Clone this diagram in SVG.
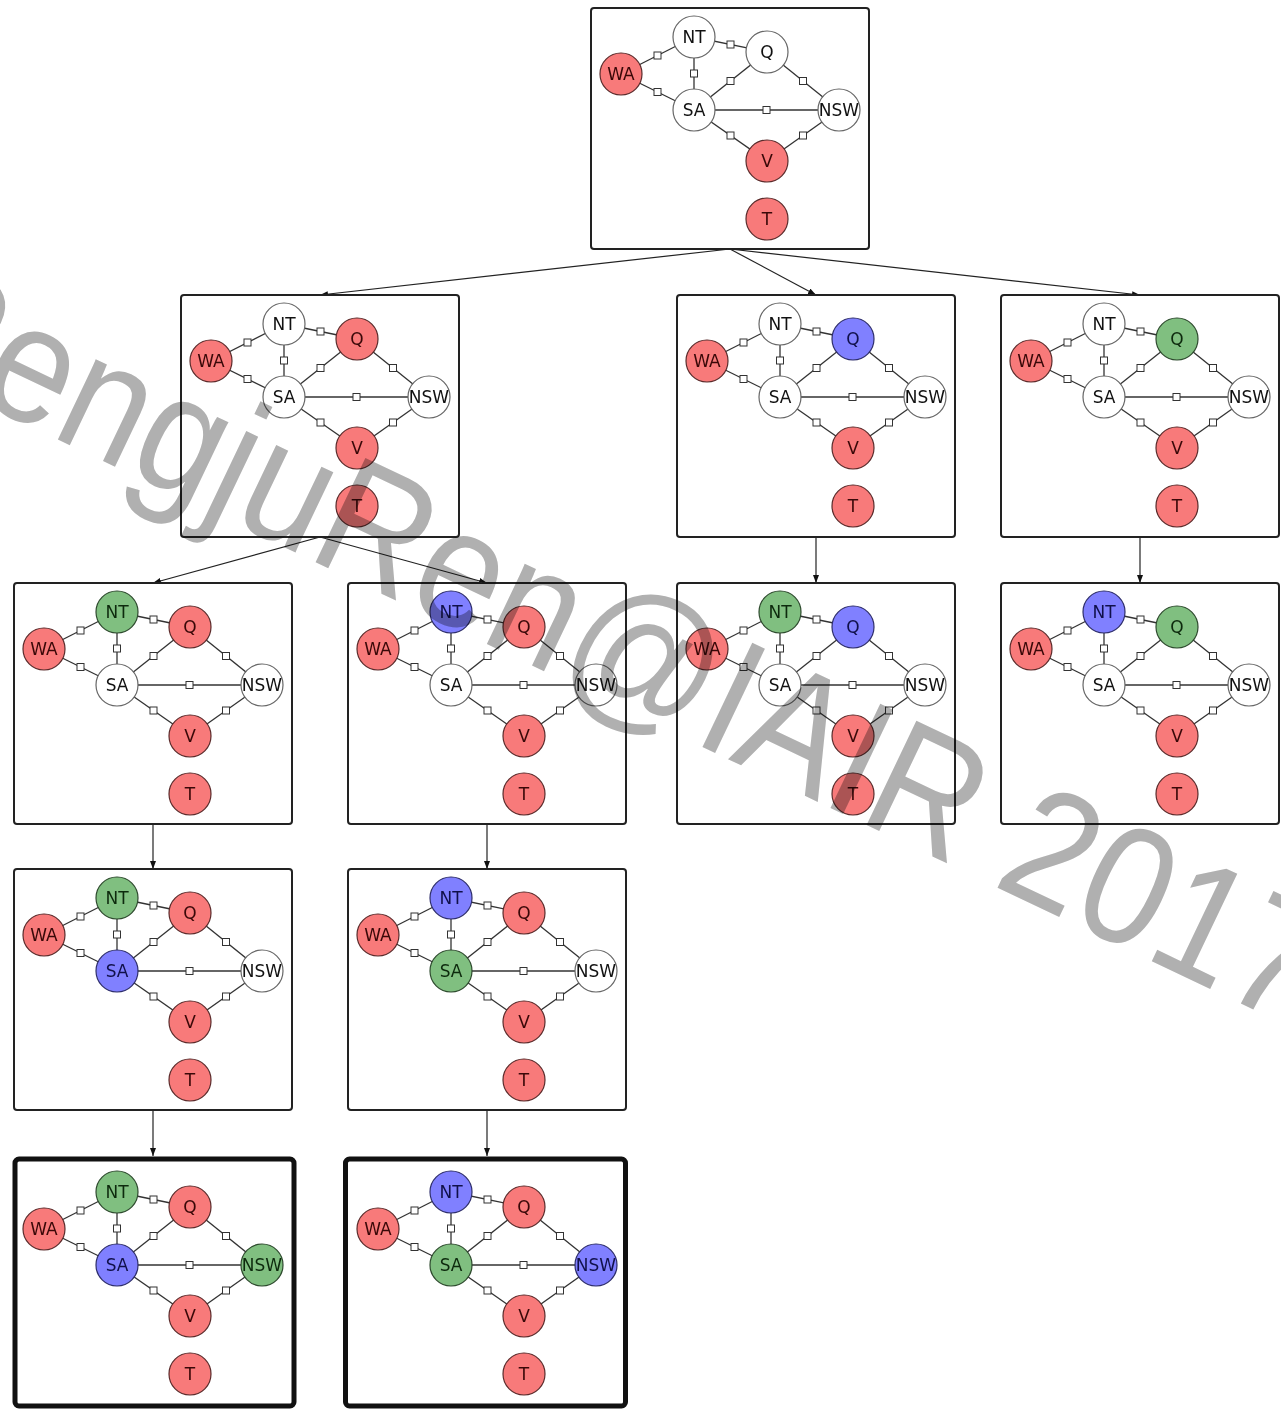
<svg xmlns="http://www.w3.org/2000/svg" xmlns:xlink="http://www.w3.org/1999/xlink" width="1281" height="1415" viewBox="0 0 1281 1415">
<style>
.box{fill:#fff;stroke:#222;stroke-width:2}
.thick{fill:#fff;stroke:#111;stroke-width:5}
.e{stroke:#333;stroke-width:1.3}
.f{fill:#fff;stroke:#333;stroke-width:1}
circle{stroke-width:1.2}
.w circle{fill:#fff;stroke:#666}
.r circle{fill:#f87a7a;stroke:#5a2a2a}
.g circle{fill:#80bf80;stroke:#2d4a2d}
.b circle{fill:#8080ff;stroke:#2d2d6a}
text{font-family:"DejaVu Sans",sans-serif;font-size:17px;text-anchor:middle}
.w text{fill:#111}.r text{fill:#3a0808}.g text{fill:#0d2a0d}.b text{fill:#10104a}
.conn{stroke:#222;stroke-width:1.2;fill:none;marker-end:url(#ah)}
.wm{font-family:"Liberation Sans",Arial,sans-serif;font-size:168px;fill:#b0b0b0;text-anchor:start;mix-blend-mode:multiply}
</style>
<defs>
<marker id="ah" markerWidth="8" markerHeight="6" refX="8" refY="3" orient="auto" markerUnits="userSpaceOnUse"><path d="M0,0 L8,3 L0,6 z" fill="#111"/></marker>
<g id="sk">
<line class="e" x1="30" y1="66" x2="103" y2="29"/>
<line class="e" x1="30" y1="66" x2="103" y2="102"/>
<line class="e" x1="103" y1="29" x2="103" y2="102"/>
<line class="e" x1="103" y1="29" x2="176" y2="44"/>
<line class="e" x1="103" y1="102" x2="176" y2="44"/>
<line class="e" x1="176" y1="44" x2="248" y2="102"/>
<line class="e" x1="103" y1="102" x2="248" y2="102"/>
<line class="e" x1="103" y1="102" x2="176" y2="153"/>
<line class="e" x1="248" y1="102" x2="176" y2="153"/>
<rect class="f" x="63" y="44" width="7" height="7"/>
<rect class="f" x="63" y="80.5" width="7" height="7"/>
<rect class="f" x="99.5" y="62" width="7" height="7"/>
<rect class="f" x="136" y="33" width="7" height="7"/>
<rect class="f" x="136" y="69.5" width="7" height="7"/>
<rect class="f" x="208.5" y="69.5" width="7" height="7"/>
<rect class="f" x="172" y="98.5" width="7" height="7"/>
<rect class="f" x="136" y="124" width="7" height="7"/>
<rect class="f" x="208.5" y="124" width="7" height="7"/>
</g>
</defs>
<rect width="1281" height="1415" fill="#fff"/>

<g id="connectors">
<line class="conn" x1="730" y1="249" x2="320" y2="295"/>
<line class="conn" x1="730" y1="249" x2="816" y2="295"/>
<line class="conn" x1="730" y1="249" x2="1140" y2="295"/>
<line class="conn" x1="320" y1="537" x2="153" y2="583"/>
<line class="conn" x1="320" y1="537" x2="487" y2="583"/>
<line class="conn" x1="816" y1="537" x2="816" y2="583"/>
<line class="conn" x1="1140" y1="537" x2="1140" y2="583"/>
<line class="conn" x1="153" y1="824" x2="153" y2="869"/>
<line class="conn" x1="487" y1="824" x2="487" y2="869"/>
<line class="conn" x1="153" y1="1110" x2="153" y2="1156"/>
<line class="conn" x1="487" y1="1110" x2="487" y2="1156"/>
</g>

<g id="s0" transform="translate(591,8)">
<rect class="box" x="0" y="0" width="278" height="241" rx="3"/>
<use xlink:href="#sk"/>
<g id="s0-NT" class="w"><circle cx="103" cy="29" r="21"/><text x="103" y="29" dy="0.36em">NT</text></g>
<g id="s0-Q" class="w"><circle cx="176" cy="44" r="21"/><text x="176" y="44" dy="0.36em">Q</text></g>
<g id="s0-WA" class="r"><circle cx="30" cy="66" r="21"/><text x="30" y="66" dy="0.36em">WA</text></g>
<g id="s0-SA" class="w"><circle cx="103" cy="102" r="21"/><text x="103" y="102" dy="0.36em">SA</text></g>
<g id="s0-NSW" class="w"><circle cx="248" cy="102" r="21"/><text x="248" y="102" dy="0.36em">NSW</text></g>
<g id="s0-V" class="r"><circle cx="176" cy="153" r="21"/><text x="176" y="153" dy="0.36em">V</text></g>
<g id="s0-T" class="r"><circle cx="176" cy="211" r="21"/><text x="176" y="211" dy="0.36em">T</text></g>
</g>

<g id="s1" transform="translate(181,295)">
<rect class="box" x="0" y="0" width="278" height="242" rx="3"/>
<use xlink:href="#sk"/>
<g id="s1-NT" class="w"><circle cx="103" cy="29" r="21"/><text x="103" y="29" dy="0.36em">NT</text></g>
<g id="s1-Q" class="r"><circle cx="176" cy="44" r="21"/><text x="176" y="44" dy="0.36em">Q</text></g>
<g id="s1-WA" class="r"><circle cx="30" cy="66" r="21"/><text x="30" y="66" dy="0.36em">WA</text></g>
<g id="s1-SA" class="w"><circle cx="103" cy="102" r="21"/><text x="103" y="102" dy="0.36em">SA</text></g>
<g id="s1-NSW" class="w"><circle cx="248" cy="102" r="21"/><text x="248" y="102" dy="0.36em">NSW</text></g>
<g id="s1-V" class="r"><circle cx="176" cy="153" r="21"/><text x="176" y="153" dy="0.36em">V</text></g>
<g id="s1-T" class="r"><circle cx="176" cy="211" r="21"/><text x="176" y="211" dy="0.36em">T</text></g>
</g>

<g id="s2" transform="translate(677,295)">
<rect class="box" x="0" y="0" width="278" height="242" rx="3"/>
<use xlink:href="#sk"/>
<g id="s2-NT" class="w"><circle cx="103" cy="29" r="21"/><text x="103" y="29" dy="0.36em">NT</text></g>
<g id="s2-Q" class="b"><circle cx="176" cy="44" r="21"/><text x="176" y="44" dy="0.36em">Q</text></g>
<g id="s2-WA" class="r"><circle cx="30" cy="66" r="21"/><text x="30" y="66" dy="0.36em">WA</text></g>
<g id="s2-SA" class="w"><circle cx="103" cy="102" r="21"/><text x="103" y="102" dy="0.36em">SA</text></g>
<g id="s2-NSW" class="w"><circle cx="248" cy="102" r="21"/><text x="248" y="102" dy="0.36em">NSW</text></g>
<g id="s2-V" class="r"><circle cx="176" cy="153" r="21"/><text x="176" y="153" dy="0.36em">V</text></g>
<g id="s2-T" class="r"><circle cx="176" cy="211" r="21"/><text x="176" y="211" dy="0.36em">T</text></g>
</g>

<g id="s3" transform="translate(1001,295)">
<rect class="box" x="0" y="0" width="278" height="242" rx="3"/>
<use xlink:href="#sk"/>
<g id="s3-NT" class="w"><circle cx="103" cy="29" r="21"/><text x="103" y="29" dy="0.36em">NT</text></g>
<g id="s3-Q" class="g"><circle cx="176" cy="44" r="21"/><text x="176" y="44" dy="0.36em">Q</text></g>
<g id="s3-WA" class="r"><circle cx="30" cy="66" r="21"/><text x="30" y="66" dy="0.36em">WA</text></g>
<g id="s3-SA" class="w"><circle cx="103" cy="102" r="21"/><text x="103" y="102" dy="0.36em">SA</text></g>
<g id="s3-NSW" class="w"><circle cx="248" cy="102" r="21"/><text x="248" y="102" dy="0.36em">NSW</text></g>
<g id="s3-V" class="r"><circle cx="176" cy="153" r="21"/><text x="176" y="153" dy="0.36em">V</text></g>
<g id="s3-T" class="r"><circle cx="176" cy="211" r="21"/><text x="176" y="211" dy="0.36em">T</text></g>
</g>

<g id="s4" transform="translate(14,583)">
<rect class="box" x="0" y="0" width="278" height="241" rx="3"/>
<use xlink:href="#sk"/>
<g id="s4-NT" class="g"><circle cx="103" cy="29" r="21"/><text x="103" y="29" dy="0.36em">NT</text></g>
<g id="s4-Q" class="r"><circle cx="176" cy="44" r="21"/><text x="176" y="44" dy="0.36em">Q</text></g>
<g id="s4-WA" class="r"><circle cx="30" cy="66" r="21"/><text x="30" y="66" dy="0.36em">WA</text></g>
<g id="s4-SA" class="w"><circle cx="103" cy="102" r="21"/><text x="103" y="102" dy="0.36em">SA</text></g>
<g id="s4-NSW" class="w"><circle cx="248" cy="102" r="21"/><text x="248" y="102" dy="0.36em">NSW</text></g>
<g id="s4-V" class="r"><circle cx="176" cy="153" r="21"/><text x="176" y="153" dy="0.36em">V</text></g>
<g id="s4-T" class="r"><circle cx="176" cy="211" r="21"/><text x="176" y="211" dy="0.36em">T</text></g>
</g>

<g id="s5" transform="translate(348,583)">
<rect class="box" x="0" y="0" width="278" height="241" rx="3"/>
<use xlink:href="#sk"/>
<g id="s5-NT" class="b"><circle cx="103" cy="29" r="21"/><text x="103" y="29" dy="0.36em">NT</text></g>
<g id="s5-Q" class="r"><circle cx="176" cy="44" r="21"/><text x="176" y="44" dy="0.36em">Q</text></g>
<g id="s5-WA" class="r"><circle cx="30" cy="66" r="21"/><text x="30" y="66" dy="0.36em">WA</text></g>
<g id="s5-SA" class="w"><circle cx="103" cy="102" r="21"/><text x="103" y="102" dy="0.36em">SA</text></g>
<g id="s5-NSW" class="w"><circle cx="248" cy="102" r="21"/><text x="248" y="102" dy="0.36em">NSW</text></g>
<g id="s5-V" class="r"><circle cx="176" cy="153" r="21"/><text x="176" y="153" dy="0.36em">V</text></g>
<g id="s5-T" class="r"><circle cx="176" cy="211" r="21"/><text x="176" y="211" dy="0.36em">T</text></g>
</g>

<g id="s6" transform="translate(677,583)">
<rect class="box" x="0" y="0" width="278" height="241" rx="3"/>
<use xlink:href="#sk"/>
<g id="s6-NT" class="g"><circle cx="103" cy="29" r="21"/><text x="103" y="29" dy="0.36em">NT</text></g>
<g id="s6-Q" class="b"><circle cx="176" cy="44" r="21"/><text x="176" y="44" dy="0.36em">Q</text></g>
<g id="s6-WA" class="r"><circle cx="30" cy="66" r="21"/><text x="30" y="66" dy="0.36em">WA</text></g>
<g id="s6-SA" class="w"><circle cx="103" cy="102" r="21"/><text x="103" y="102" dy="0.36em">SA</text></g>
<g id="s6-NSW" class="w"><circle cx="248" cy="102" r="21"/><text x="248" y="102" dy="0.36em">NSW</text></g>
<g id="s6-V" class="r"><circle cx="176" cy="153" r="21"/><text x="176" y="153" dy="0.36em">V</text></g>
<g id="s6-T" class="r"><circle cx="176" cy="211" r="21"/><text x="176" y="211" dy="0.36em">T</text></g>
</g>

<g id="s7" transform="translate(1001,583)">
<rect class="box" x="0" y="0" width="278" height="241" rx="3"/>
<use xlink:href="#sk"/>
<g id="s7-NT" class="b"><circle cx="103" cy="29" r="21"/><text x="103" y="29" dy="0.36em">NT</text></g>
<g id="s7-Q" class="g"><circle cx="176" cy="44" r="21"/><text x="176" y="44" dy="0.36em">Q</text></g>
<g id="s7-WA" class="r"><circle cx="30" cy="66" r="21"/><text x="30" y="66" dy="0.36em">WA</text></g>
<g id="s7-SA" class="w"><circle cx="103" cy="102" r="21"/><text x="103" y="102" dy="0.36em">SA</text></g>
<g id="s7-NSW" class="w"><circle cx="248" cy="102" r="21"/><text x="248" y="102" dy="0.36em">NSW</text></g>
<g id="s7-V" class="r"><circle cx="176" cy="153" r="21"/><text x="176" y="153" dy="0.36em">V</text></g>
<g id="s7-T" class="r"><circle cx="176" cy="211" r="21"/><text x="176" y="211" dy="0.36em">T</text></g>
</g>

<g id="s8" transform="translate(14,869)">
<rect class="box" x="0" y="0" width="278" height="241" rx="3"/>
<use xlink:href="#sk"/>
<g id="s8-NT" class="g"><circle cx="103" cy="29" r="21"/><text x="103" y="29" dy="0.36em">NT</text></g>
<g id="s8-Q" class="r"><circle cx="176" cy="44" r="21"/><text x="176" y="44" dy="0.36em">Q</text></g>
<g id="s8-WA" class="r"><circle cx="30" cy="66" r="21"/><text x="30" y="66" dy="0.36em">WA</text></g>
<g id="s8-SA" class="b"><circle cx="103" cy="102" r="21"/><text x="103" y="102" dy="0.36em">SA</text></g>
<g id="s8-NSW" class="w"><circle cx="248" cy="102" r="21"/><text x="248" y="102" dy="0.36em">NSW</text></g>
<g id="s8-V" class="r"><circle cx="176" cy="153" r="21"/><text x="176" y="153" dy="0.36em">V</text></g>
<g id="s8-T" class="r"><circle cx="176" cy="211" r="21"/><text x="176" y="211" dy="0.36em">T</text></g>
</g>

<g id="s9" transform="translate(348,869)">
<rect class="box" x="0" y="0" width="278" height="241" rx="3"/>
<use xlink:href="#sk"/>
<g id="s9-NT" class="b"><circle cx="103" cy="29" r="21"/><text x="103" y="29" dy="0.36em">NT</text></g>
<g id="s9-Q" class="r"><circle cx="176" cy="44" r="21"/><text x="176" y="44" dy="0.36em">Q</text></g>
<g id="s9-WA" class="r"><circle cx="30" cy="66" r="21"/><text x="30" y="66" dy="0.36em">WA</text></g>
<g id="s9-SA" class="g"><circle cx="103" cy="102" r="21"/><text x="103" y="102" dy="0.36em">SA</text></g>
<g id="s9-NSW" class="w"><circle cx="248" cy="102" r="21"/><text x="248" y="102" dy="0.36em">NSW</text></g>
<g id="s9-V" class="r"><circle cx="176" cy="153" r="21"/><text x="176" y="153" dy="0.36em">V</text></g>
<g id="s9-T" class="r"><circle cx="176" cy="211" r="21"/><text x="176" y="211" dy="0.36em">T</text></g>
</g>

<g id="s10" transform="translate(14,1163)">
<rect class="thick" x="1" y="-4" width="279" height="247" rx="4"/>
<use xlink:href="#sk"/>
<g id="s10-NT" class="g"><circle cx="103" cy="29" r="21"/><text x="103" y="29" dy="0.36em">NT</text></g>
<g id="s10-Q" class="r"><circle cx="176" cy="44" r="21"/><text x="176" y="44" dy="0.36em">Q</text></g>
<g id="s10-WA" class="r"><circle cx="30" cy="66" r="21"/><text x="30" y="66" dy="0.36em">WA</text></g>
<g id="s10-SA" class="b"><circle cx="103" cy="102" r="21"/><text x="103" y="102" dy="0.36em">SA</text></g>
<g id="s10-NSW" class="g"><circle cx="248" cy="102" r="21"/><text x="248" y="102" dy="0.36em">NSW</text></g>
<g id="s10-V" class="r"><circle cx="176" cy="153" r="21"/><text x="176" y="153" dy="0.36em">V</text></g>
<g id="s10-T" class="r"><circle cx="176" cy="211" r="21"/><text x="176" y="211" dy="0.36em">T</text></g>
</g>

<g id="s11" transform="translate(348,1163)">
<rect class="thick" x="-2.5" y="-4" width="280" height="247" rx="4"/>
<use xlink:href="#sk"/>
<g id="s11-NT" class="b"><circle cx="103" cy="29" r="21"/><text x="103" y="29" dy="0.36em">NT</text></g>
<g id="s11-Q" class="r"><circle cx="176" cy="44" r="21"/><text x="176" y="44" dy="0.36em">Q</text></g>
<g id="s11-WA" class="r"><circle cx="30" cy="66" r="21"/><text x="30" y="66" dy="0.36em">WA</text></g>
<g id="s11-SA" class="g"><circle cx="103" cy="102" r="21"/><text x="103" y="102" dy="0.36em">SA</text></g>
<g id="s11-NSW" class="b"><circle cx="248" cy="102" r="21"/><text x="248" y="102" dy="0.36em">NSW</text></g>
<g id="s11-V" class="r"><circle cx="176" cy="153" r="21"/><text x="176" y="153" dy="0.36em">V</text></g>
<g id="s11-T" class="r"><circle cx="176" cy="211" r="21"/><text x="176" y="211" dy="0.36em">T</text></g>
</g>

<text class="wm" x="-117" y="356" transform="rotate(25.5 -117 356)" textLength="1561" lengthAdjust="spacingAndGlyphs">PengjuRen@IAIR 2017</text>
</svg>
